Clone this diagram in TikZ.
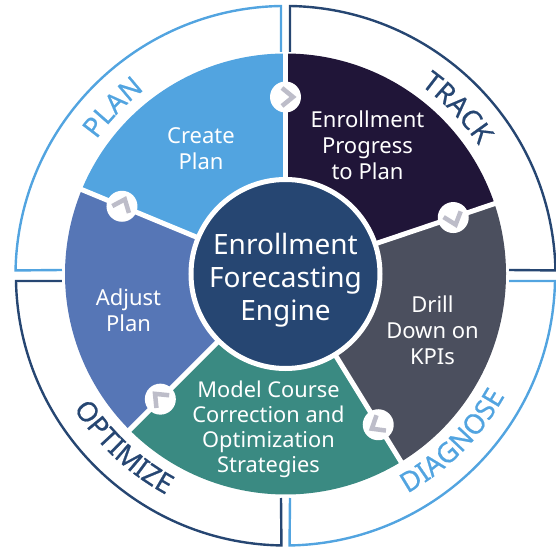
\documentclass[tikz,border=0pt]{standalone}
\usepackage{fontspec}
\setmainfont{Noto Sans}
\newfontfamily\ringfam[FakeBold=0.6]{Noto Sans}
\usetikzlibrary{decorations.text}
\definecolor{planblue}{HTML}{52A4E0}
\definecolor{trackdark}{HTML}{201538}
\definecolor{drillgray}{HTML}{4B4F5E}
\definecolor{modelteal}{HTML}{3A8A82}
\definecolor{adjustblue}{HTML}{5676B6}
\definecolor{enginenavy}{HTML}{264672}
\definecolor{chevgray}{HTML}{BDBDC9}
\tikzset{
    framelight/.style={draw=planblue,line width=2.4pt},
    framedark/.style={draw=enginenavy,line width=2.4pt},
    wedgetext/.style={text=white,align=center,font=\fontsize{22}{26}\selectfont},
    ringtext/.style={decorate,decoration={text along path,text align=center,text={#1}}}
}
\newcommand{\ringfont}{\ringfam\fontsize{27.5}{27.5}\selectfont}
\begin{document}
\begin{tikzpicture}[x=1pt,y=1pt]
    \useasboundingbox (-285.5,-274) rectangle (270.5,274);
    \fill[planblue] (0,0) -- (90:220.5) arc (90:157.5:220.5) -- cycle;
    \fill[trackdark] (0,0) -- (18.6:220.5) arc (18.6:90:220.5) -- cycle;
    \fill[drillgray] (0,0) -- (-58.4:220.5) arc (-58.4:18.6:220.5) -- cycle;
    \fill[modelteal] (0,0) -- (-135:220.5) arc (-135:-58.4:220.5) -- cycle;
    \fill[adjustblue] (0,0) -- (157.5:220.5) arc (157.5:225:220.5) -- cycle;
    \foreach \a in {90,18.6,-58.4,-135,157.5}
        \draw[white,line width=5pt] (0,0) -- (\a:226);
    \node[circle,fill=enginenavy,draw=white,line width=5pt,minimum size=189pt,inner sep=0pt] (engine) at (0,0) {};
    \node[text=white,align=center,font=\fontsize{28}{33}\selectfont] (enginetext) at (0,-6.5) {Enrollment\\Forecasting\\Engine};
    \node[wedgetext] (create) at (-84.5,125) {Create\\Plan};
    \node[wedgetext] (progress) at (82,129) {Enrollment\\Progress\\to Plan};
    \node[wedgetext] (drill) at (147,-56) {Drill\\Down on\\KPIs};
    \node[wedgetext,font=\fontsize{21.8}{25}\selectfont] (model) at (-17,-155.5) {Model Course\\Correction and\\Optimization\\Strategies};
    \node[wedgetext] (adjust) at (-157,-36) {Adjust\\Plan};
    % chevrons on the dividers
    \foreach \a in {90,18.6,-58.4,-135,157.5} {
        \fill[white] (\a:177) circle (15.5);
        \draw[chevgray,line width=4.5pt,shift={(\a:177)},rotate=\a-90] (-3.5,9) -- (7.5,0) -- (-3.5,-9);
    }
    % outer frames
    \draw[framelight] (-4.5,222) -- (-4.5,268) arc[start angle=90.95,end angle=178.83,radius=270] -- (-223.5,4);
    \draw[framedark] (4.5,222) -- (4.5,268) arc[start angle=89.05,end angle=1.17,radius=270] -- (223.5,4);
    \draw[framelight] (223.5,-7) -- (269.5,-7) arc[start angle=-1.17,end angle=-89.05,radius=270] -- (4.5,-224);
    \draw[framedark] (-223.5,-7) -- (-269.5,-7) arc[start angle=181.17,end angle=269.05,radius=270] -- (-4.5,-224);
    % ring labels
    \path[ringtext={|\ringfont\color{planblue}|PLAN}] (166:232) arc (166:106:232);
    \path[ringtext={|\ringfont\color{enginenavy}|TRACK}] (74:232) arc (74:14:232);
    \path[ringtext={|\ringfont\color{planblue}|DIAGNOSE}] (-85:251) arc (-85:-5:251);
    \path[ringtext={|\ringfont\color{enginenavy}|OPTIMIZE}] (-173:251) arc (-173:-93:251);
\end{tikzpicture}
\end{document}
